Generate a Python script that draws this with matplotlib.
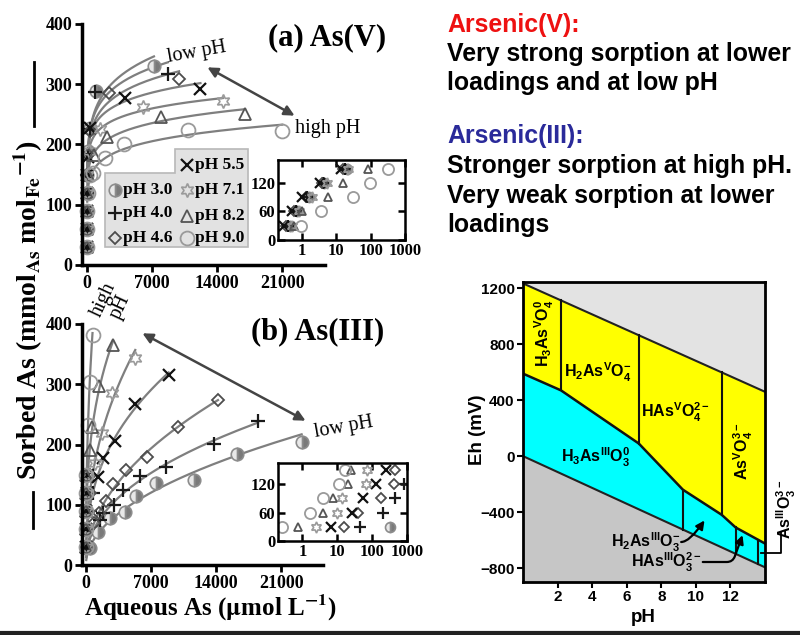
import numpy as np
import matplotlib.pyplot as plt
from matplotlib.patches import Polygon, FancyArrowPatch
from matplotlib.lines import Line2D

plt.rcParams['font.family'] = ['Liberation Serif', 'DejaVu Serif']
plt.rcParams['font.weight'] = 'bold'
plt.rcParams['mathtext.fontset'] = 'custom'
plt.rcParams['mathtext.rm'] = 'Liberation Sans:bold'
plt.rcParams['mathtext.it'] = 'Liberation Sans:bold'
plt.rcParams['mathtext.bf'] = 'Liberation Sans:bold'

W, H = 800, 635

# ---- data ----
ph_labels = ['pH 3.0', 'pH 4.0', 'pH 4.6', 'pH 5.5', 'pH 7.1', 'pH 8.2', 'pH 9.0']

# (a) As(V) - main isotherm points (umol/L, mmol/mol)
asv_x = [[150, 350, 1000, 7200],
         [130, 320, 860, 8700],
         [120, 330, 2400, 9900],
         [110, 300, 4100, 12200],
         [200, 1400, 6000, 14600],
         [800, 2150, 8000, 17000],
         [650, 1940, 4000, 10900, 21000]]
asv_y = [[190, 228, 288, 330],
         [185, 226, 287, 317],
         [182, 222, 286, 308],
         [180, 228, 278, 292],
         [190, 225, 263, 272],
         [183, 213, 246, 251],
         [153, 177, 200, 224, 222]]
# (a) low-loading points (inset)
asv_low_x = [[0.45, 0.7, 1.6, 4.5, 20],
             [0.4, 0.65, 1.4, 4.0, 18],
             [0.35, 0.6, 1.3, 3.8, 16],
             [0.3, 0.5, 1.0, 3.3, 14],
             [0.5, 0.8, 2.0, 5.5, 22],
             [0.6, 1.0, 5.6, 16, 85],
             [0.93, 3.5, 30, 98, 330]]
asv_low_y = [[30, 60, 90, 120, 150]] * 7

# (b) As(III) - main isotherm points
asiii_x = [[430, 1300, 2600, 4230, 5330, 7500, 11600, 16200, 23200],
           [1520, 1850, 3000, 4030, 5770, 8600, 13800, 18500],
           [870, 1410, 2170, 2930, 4340, 6510, 9880, 14200],
           [1300, 1800, 3100, 5300, 8900],
           [980, 1700, 2750, 5300],
           [430, 650, 1400, 2900],
           [220, 380, 700]]
asiii_y = [[28, 55, 78, 88, 115, 136, 141, 184, 204],
           [75, 86, 100, 124, 148, 163, 201, 239],
           [70, 86, 106, 134, 158, 179, 229, 274],
           [146, 178, 205, 268, 315],
           [169, 219, 286, 344],
           [191, 229, 297, 365],
           [232, 303, 381]]
# (b) low-loading points (inset)
asiii_low_x = [[320],
               [44, 200, 450, 800],
               [16, 39, 180, 420, 450],
               [6.8, 27, 53, 127, 250],
               [2.5, 10, 14, 65, 70],
               [0.77, 3.8, 7.8, 20, 24],
               [0.26, 1.7, 3.8, 11, 17]]
asiii_low_y = [[30],
               [30, 60, 90, 120],
               [30, 60, 90, 120, 150],
               [30, 60, 90, 120, 150],
               [30, 60, 90, 120, 150],
               [30, 60, 90, 120, 150],
               [30, 60, 90, 120, 150]]

# Eh-pH diagram
pb_ph = [0, 2.2, 6.7, 9.25, 11.5, 12.3, 14]
pb_as_boundary = [590, 470, 90, -240, -420, -510, -625]
pb_water_ph = [0, 14]
pb_o2_line = [1235, 460]
pb_h2_line = [0, -795]
pb_asv_splits = [2.2, 6.7, 11.5]
pb_asiii_splits = [9.25, 12.3, 13.6]

styles = [
    dict(marker='o', ms=9, fillstyle='right', mfc='#7a7a7a', mfcalt='#e8e8e8', mec='#8c8c8c', mew=1.2),
    dict(marker='+', ms=10, mec='#1a1a1a', mew=1.6),
    dict(marker='D', ms=6.5, mfc='none', mec='#4d4d4d', mew=1.3),
    dict(marker='x', ms=9, mec='#111111', mew=1.6),
    dict(marker=(6, 1, 0), ms=10, mfc='none', mec='#9a9a9a', mew=1.2),
    dict(marker='^', ms=8, mfc='none', mec='#555555', mew=1.3),
    dict(marker='o', ms=10, mfc='none', mec='#9a9a9a', mew=1.3),
]


def small(st, f=0.8):
    d = dict(st)
    d['ms'] = st['ms'] * f
    return d


def fbox(l, t, r, b):
    return [l / W, 1 - b / H, (r - l) / W, (b - t) / H]


def fpt(px, py):
    return (px / W, 1 - py / H)


fig = plt.figure(figsize=(8, 6.35), dpi=100)


def isotherm_panel(rect, xlim, xs, ys, lowx, lowy, x0):
    ax = fig.add_axes(rect)
    for i in range(7):
        c = np.polyfit(np.log(xs[i]), np.log(ys[i]), 1)
        xf = np.geomspace(x0, max(xs[i]), 200)
        ax.plot(xf, np.exp(np.polyval(c, np.log(xf))), color='#7f7f7f', lw=1.6, zorder=1)
    for i in range(7):
        ax.plot(lowx[i], lowy[i], ls='none', clip_on=False, zorder=2, **styles[i])
        ax.plot(xs[i], ys[i], ls='none', clip_on=False, zorder=2, **styles[i])
    ax.set_xlim(*xlim)
    ax.set_ylim(0, 400)
    ax.set_xticks([0, 7000, 14000, 21000])
    ax.set_yticks([0, 100, 200, 300, 400])
    for s in ['top', 'right']:
        ax.spines[s].set_visible(False)
    for s in ['left', 'bottom']:
        ax.spines[s].set_linewidth(2.5)
    ax.tick_params(direction='out', length=5, width=2, labelsize=13, pad=2)
    return ax


def inset_panel(rect, ylim, lowx, lowy):
    ax = fig.add_axes(rect)
    for i in range(7):
        ax.plot(lowx[i], lowy[i], ls='none', zorder=2, **small(styles[i]))
    ax.set_xscale('log')
    ax.set_xlim(0.2, 1000)
    ax.set_ylim(*ylim)
    ax.set_xticks([1, 10, 100, 1000], labels=['1', '10', '100', '1000'])
    ax.minorticks_off()
    ax.set_yticks([0, 60, 120])
    for s in ax.spines.values():
        s.set_linewidth(1.8)
    ax.tick_params(direction='in', length=5, width=1.8, labelsize=12, pad=2,
                   top=True, right=True)
    ax.set_zorder(5)
    return ax


ax_a = isotherm_panel(fbox(82, 24, 325, 265), (-540, 25600), asv_x, asv_y, asv_low_x, asv_low_y, 20)
ax_b = isotherm_panel(fbox(82, 324, 323, 565), (-430, 25500), asiii_x, asiii_y, asiii_low_x, asiii_low_y, 30)
ins_a = inset_panel(fbox(278, 160, 405, 240), (0, 168), asv_low_x, asv_low_y)
ins_b = inset_panel(fbox(278, 463, 407, 541), (0, 165), asiii_low_x, asiii_low_y)


# legend of panel (a): L-shaped grey box
def axa(px, py):
    return ((px - 82) / 243, (265 - py) / 241)


leg_poly = [axa(105, 247), axa(248, 247), axa(248, 149), axa(175, 149), axa(175, 173), axa(105, 173)]
ax_a.add_patch(Polygon(leg_poly, closed=True, transform=ax_a.transAxes, fc='#e2e2e2',
                       ec='#b8b8b8', lw=1.2, zorder=3, clip_on=False))
leg_pos = [(115, 190), (115, 213), (115, 238), (187, 165), (187, 190), (187, 216), (187, 238)]
for i, (px, py) in enumerate(leg_pos):
    mx, my = axa(px, py)
    ax_a.plot([mx], [my], transform=ax_a.transAxes, ls='none', clip_on=False, zorder=4, **styles[i])
    tx, ty = axa(px + 8, py)
    ax_a.text(tx, ty, ph_labels[i], transform=ax_a.transAxes, fontsize=12.5, va='center',
              ha='left', zorder=4)

# titles and annotations
fig.text(*fpt(327, 38), '(a) As(V)', fontsize=22, ha='center', va='center')
fig.text(*fpt(318, 332), '(b) As(III)', fontsize=22, ha='center', va='center')
fig.text(*fpt(197, 52), 'low pH', fontsize=14.5, fontweight='normal', rotation=10, ha='center', va='center')
fig.text(*fpt(328, 128), 'high pH', fontsize=14.5, fontweight='normal', ha='center', va='center')
fig.text(*fpt(112, 303), 'high\npH', fontsize=14.5, fontweight='normal', rotation=65, ha='center',
         va='center', linespacing=0.9, multialignment='center')
fig.text(*fpt(344, 427), 'low pH', fontsize=14.5, fontweight='normal', rotation=10, ha='center', va='center')
for p0, p1 in [((205, 66), (297, 117)), ((140, 332), (308, 422))]:
    fig.add_artist(FancyArrowPatch(fpt(*p0), fpt(*p1), transform=fig.transFigure,
                                   arrowstyle='<|-|>,head_length=6,head_width=3', color='#444444', lw=1.8))

fig.text(*fpt(28, 310), r'Sorbed As (mmol$_{\mathbf{As}}$ mol$_{\mathbf{Fe}}$$^{\mathbf{-1}}$)', fontsize=20,
         rotation=90, ha='center', va='center', math_fontfamily='stix')
fig.add_artist(Line2D([33 / W, 33 / W], [1 - 492 / H, 1 - 528 / H], color='black', lw=2))
fig.add_artist(Line2D([34 / W, 34 / W], [1 - 62 / H, 1 - 126 / H], color='black', lw=2))
fig.text(*fpt(210, 608), r'Aqueous As ($\mathrm{\mu}$mol L$^{\mathbf{-1}}$)', fontsize=18,
         ha='center', va='center', math_fontfamily='stix')

# right-hand notes
notes = [('Arsenic(V):', '#ee1111', 32), ('Very strong sorption at lower', 'black', 61),
         ('loadings and at low pH', 'black', 90), ('Arsenic(III):', '#2a2a9a', 143),
         ('Stronger sorption at high pH.', 'black', 173), ('Very weak sorption at lower', 'black', 203),
         ('loadings', 'black', 232)]
for txt, col, py in notes:
    fig.text(*fpt(447, py), txt, color=col, fontsize=17.9, family='Liberation Sans',
             fontweight='bold', va='baseline', ha='left')

# Eh-pH diagram
ax_p = fig.add_axes(fbox(523, 282, 765, 582))
ph_grid = np.array(pb_ph)
o2 = np.interp(ph_grid, pb_water_ph, pb_o2_line)
h2 = np.interp(ph_grid, pb_water_ph, pb_h2_line)
ax_p.fill_between(ph_grid, o2, 1300, color='#e3e3e3', lw=0)
ax_p.fill_between(ph_grid, pb_as_boundary, o2, color='#ffff00', lw=0)
ax_p.fill_between(ph_grid, h2, pb_as_boundary, color='#00ffff', lw=0)
ax_p.fill_between(ph_grid, -1000, h2, color='#c6c6c6', lw=0)
ax_p.plot(pb_water_ph, pb_o2_line, color='#222222', lw=1.5)
ax_p.plot(pb_water_ph, pb_h2_line, color='#222222', lw=1.5)
ax_p.plot(pb_ph, pb_as_boundary, color='#111111', lw=1.8)
for p in pb_asv_splits:
    ax_p.plot([p, p], [np.interp(p, pb_ph, pb_as_boundary), np.interp(p, pb_water_ph, pb_o2_line)],
              color='#111111', lw=1.5)
for p in pb_asiii_splits:
    ax_p.plot([p, p], [np.interp(p, pb_water_ph, pb_h2_line), np.interp(p, pb_ph, pb_as_boundary)],
              color='#111111', lw=1.5)
ax_p.set_xlim(0, 14)
ax_p.set_ylim(-900, 1245)
ax_p.set_xticks([2, 4, 6, 8, 10, 12])
ax_p.set_yticks([-800, -400, 0, 400, 800, 1200])
for s in ax_p.spines.values():
    s.set_linewidth(2)
ax_p.tick_params(direction='out', length=4, width=1.5, labelsize=11, pad=2)
for lab in ax_p.get_xticklabels() + ax_p.get_yticklabels():
    lab.set_fontfamily('Liberation Sans')
fig.text(*fpt(478, 430), 'Eh (mV)', fontsize=13.5, family='Liberation Sans', rotation=90,
         ha='center', va='center')
fig.text(*fpt(643, 617), 'pH', fontsize=13.5, family='Liberation Sans', ha='center', va='center')

sp = dict(family='Liberation Sans', fontsize=11.5, va='center')
ax_p.text(1.25, 880, r'H$_3$As$^{\mathrm{V}}$O$_4^0$', rotation=90, ha='center', **sp)
ax_p.text(4.3, 600, r'H$_2$As$^{\mathrm{V}}$O$_4^{-}$', ha='center', **sp)
ax_p.text(8.85, 314, r'HAs$^{\mathrm{V}}$O$_4^{2-}$', ha='center', **sp)
ax_p.text(12.75, 36, r'As$^{\mathrm{V}}$O$_4^{3-}$', rotation=90, ha='center', **sp)
ax_p.text(4.2, -7, r'H$_3$As$^{\mathrm{III}}$O$_3^0$', ha='center', **sp)
ax_p.text(9.1, -614, r'H$_2$As$^{\mathrm{III}}$O$_3^{-}$', ha='right', **sp)
ax_p.text(10.35, -757, r'HAs$^{\mathrm{III}}$O$_3^{2-}$', ha='right', **sp)
ax_p.annotate('', xy=(10.5, -460), xytext=(9.15, -614),
              arrowprops=dict(arrowstyle='-|>,head_length=0.5,head_width=0.25', color='black', lw=1.6,
                              shrinkA=0, shrinkB=0, connectionstyle='angle3,angleA=0,angleB=55'))
ax_p.annotate('', xy=(12.7, -565), xytext=(10.4, -757),
              arrowprops=dict(arrowstyle='-|>,head_length=0.5,head_width=0.25', color='black', lw=1.6,
                              shrinkA=0, shrinkB=0, connectionstyle='angle,angleA=0,angleB=70,rad=6'))
ax_p.text(15.25, -380, r'As$^{\mathrm{III}}$O$_3^{3-}$', rotation=90, ha='center', clip_on=False, **sp)
ax_p.plot([13.75, 14.95, 14.95], [-690, -690, -545], color='black', lw=1.3, clip_on=False)

fig.add_artist(Line2D([0, 1], [0.003, 0.003], color='#222222', lw=3))

fig.savefig('out.png', dpi=100)
